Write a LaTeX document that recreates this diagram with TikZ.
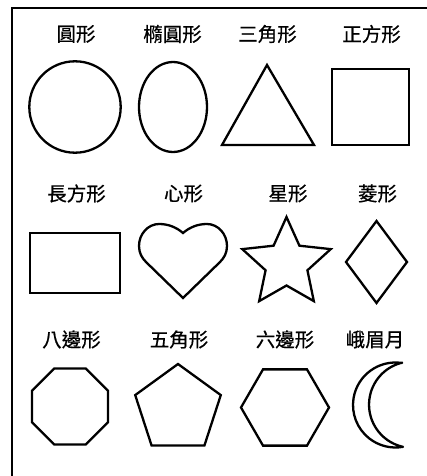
\documentclass[tikz,border=0pt]{standalone}
\usepackage{fontspec}
\usetikzlibrary{calc}
\newfontfamily\cjk[FakeBold=0.6]{Noto Sans CJK TC}
\begin{document}
\begin{tikzpicture}[x=1pt,y=-1pt,
  shp/.style={line width=2.3pt, line join=miter, draw=black},
  frm/.style={line width=2.6pt, draw=black},
  lbl/.style={font=\cjk\fontsize{19.5}{20}\selectfont, inner sep=0pt, anchor=center}]
\useasboundingbox (0,0) rectangle (427,476);
\fill[white] (0,0) rectangle (427,476);
% frame (cut off at right and bottom)
\coordinate (fb) at (12,476);
\coordinate (fc) at (12,8);
\coordinate (fr) at (427,8);
\draw[frm, line cap=rect] (fb) -- (fc) -- (fr);
% labels
\node[lbl] (l1) at (76,34) {圓形};
\node[lbl] (l2) at (172.5,34) {橢圓形};
\node[lbl] (l3) at (267.5,34) {三角形};
\node[lbl] (l4) at (371.5,34) {正方形};
\node[lbl] (l5) at (76.5,193.5) {長方形};
\node[lbl] (l6) at (183.5,193.5) {心形};
\node[lbl] (l7) at (288,193.5) {星形};
\node[lbl] (l8) at (377.5,193.5) {菱形};
\node[lbl] (l9) at (71.5,339.5) {八邊形};
\node[lbl] (l10) at (179,339.5) {五角形};
\node[lbl] (l11) at (285,339.5) {六邊形};
\node[lbl] (l12) at (375,339.5) {峨眉月};
% row 1
\draw[shp] (75,107) circle[radius=45.7];
\draw[shp] (173,107) ellipse[x radius=34, y radius=45];
\draw[shp] (267,65) -- (314,145) -- (222,145) -- cycle;
\draw[shp] (332,69) rectangle (409,145);
% row 2
\draw[shp] (30,233) rectangle (120,293);
\draw[shp] (183,233) .. controls (176,227) and (168,224) .. (159,224)
  .. controls (148,224) and (139,234) .. (139,246)
  .. controls (139,253) and (142,258) .. (146,262)
  -- (183,298) -- (220,262)
  .. controls (224,258) and (227,253) .. (227,246)
  .. controls (227,234) and (218,224) .. (207,224)
  .. controls (198,224) and (190,227) .. (183,233) -- cycle;
\coordinate (sc) at (286.5,263.5);
\draw[shp] ($(sc)+(-90:46.5)$)
  \foreach \k in {0,...,4} {
    -- ($(sc)+(-54+72*\k:22)$) -- ($(sc)+(-18+72*\k:46.5)$)
  } -- cycle;
\draw[shp] (376.5,221) -- (407,262) -- (376.5,303) -- (346,262) -- cycle;
% row 3
\coordinate (oc) at (70,406.5);
\draw[shp] ($(oc)+(22.5:41.1)$)
  \foreach \k in {1,...,7} { -- ($(oc)+(22.5+45*\k:41.1)$) } -- cycle;
\coordinate (pc) at (178,409);
\draw[shp] ($(pc)+(-90:45)$)
  \foreach \k in {1,...,4} { -- ($(pc)+(-90+72*\k:45)$) } -- cycle;
\coordinate (hc) at (285,407.5);
\draw[shp] ($(hc)+(0:44)$)
  \foreach \k in {1,...,5} { -- ($(hc)+(60*\k:44)$) } -- cycle;
\draw[shp, line join=round] (402,363) arc[start angle=-81.2, end angle=-280.1, radius=42.5]
  arc[start angle=102.4, end angle=256.4, radius=43.2] -- cycle;
\end{tikzpicture}
\end{document}
